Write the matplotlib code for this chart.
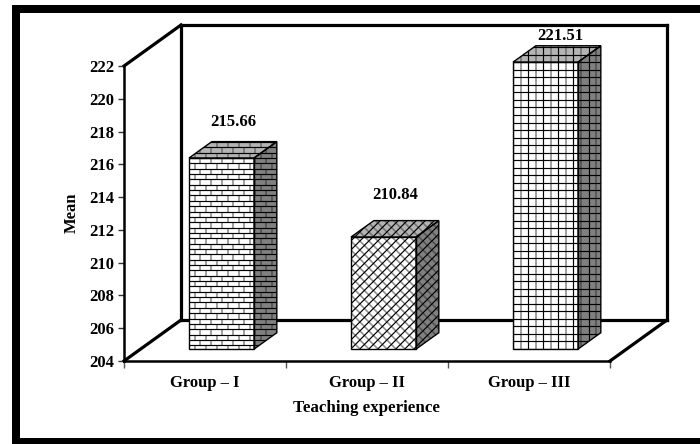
import matplotlib
matplotlib.use("Agg")
import matplotlib.pyplot as plt
import numpy as np
from matplotlib.patches import Polygon, Rectangle
from matplotlib.collections import LineCollection

categories = ["Group \u2013 I", "Group \u2013 II", "Group \u2013 III"]
means = [215.66, 210.84, 221.51]
value_labels = ["215.66", "210.84", "221.51"]
yticks = [204, 206, 208, 210, 212, 214, 216, 218, 220, 222]
patterns = ["brick", "cross", "grid"]
xlabel = "Teaching experience"
ylabel = "Mean"

plt.rcParams["font.family"] = ["Liberation Serif", "DejaVu Serif"]
plt.rcParams["font.weight"] = "bold"

W, H = 700, 444
fig = plt.figure(figsize=(W / 100, H / 100), dpi=100, facecolor="white")

# outer black frame
for x0, y0, x1, y1 in [(12, 5, 700, 13), (12, 5, 20, 444), (12, 438, 700, 444)]:
    fig.add_artist(Rectangle((x0 / W, 1 - y1 / H), (x1 - x0) / W, (y1 - y0) / H,
                             transform=fig.transFigure, fc="black", ec="none"))

L, R, T, B = 124, 610, 66, 361
ax = fig.add_axes([L / W, 1 - B / H, (R - L) / W, (B - T) / H])
ax.set_xlim(0, 3)
ax.set_ylim(204, 222)
ax.patch.set_alpha(0)

sx = (R - L) / 3            # pixels per x unit
sy = (B - T) / 18           # pixels per y unit
DX, DY = 57 / sx, 41 / sy   # full depth of the box, in data units
BAR_W = 65 / sx
F0, F1 = 0.29, 0.69         # bar depth range as a fraction of full depth


def d(x, y, f):
    """Project a point at depth fraction f."""
    return (x + f * DX, y + f * DY)


# walls and floor
back_l, back_r = d(0, 204, 1), d(3, 204, 1)
top_l, top_r = d(0, 222, 1), d(3, 222, 1)
wall = [[(0, 222), top_l], [top_l, top_r], [top_r, back_r], [back_r, back_l],
        [back_l, top_l], [(0, 204), back_l], [(3, 204), back_r]]
ax.add_collection(LineCollection(wall, colors="black", linewidths=2.3,
                                 clip_on=False, capstyle="projecting", zorder=1))


def pattern_lines(kind, w, h, w_tot, h_tot):
    """Screen-aligned hatch, anchored at the front face's top left corner."""
    black, grey = [], []
    if kind == "brick":
        step, bw = 5.35, 11.0
        for i in range(-8, int(h / step) + 2):
            yy = h - i * step
            black.append([(0, yy), (w_tot, yy)])
            off = 0 if i % 2 == 0 else bw / 2
            for xx in np.arange(off, w_tot + bw, bw):
                grey.append([(xx, yy), (xx, yy - step)])
    elif kind == "grid":
        step = 7.55
        for i in range(-6, int(h / step) + 2):
            yy = h - i * step
            black.append([(0, yy), (w_tot, yy)])
        for i in range(int(w_tot / step) + 2):
            xx = i * step
            (black if i % 2 == 0 else grey).append([(xx, 0), (xx, h_tot)])
    else:
        step = 9.0
        size = w_tot + h_tot
        for c in np.arange(-size, size, step):
            black.append([(c, 0), (c + size, size)])
            grey.append([(c, size), (c + size, 0)])
    return black, grey


def face(verts, fc, greyc, black, grey, to_data, lw=0.85):
    poly = Polygon(verts, closed=True, fc=fc, ec="none", clip_on=False, zorder=3)
    ax.add_patch(poly)
    for segs, col, width in ((grey, greyc, lw + 0.3), (black, "black", lw)):
        lc = LineCollection(to_data(segs), colors=col, linewidths=width, zorder=4)
        ax.add_collection(lc)
        lc.set_clip_path(poly)
        lc.set_clip_box(fig.bbox)
    ax.add_patch(Polygon(verts, closed=True, fc="none", ec="black", lw=1.0,
                         clip_on=False, zorder=5))


# pixel offsets of the value labels from the bar's back top edge
label_shift = [(0, 20), (0, 26), (3, 10)]

for i, (val, kind, lab) in enumerate(zip(means, patterns, value_labels)):
    x0 = i + 0.5 - BAR_W / 2
    fx, fy = d(x0, 204, F0)
    ox, oy = (F1 - F0) * DX, (F1 - F0) * DY
    h = val - 204
    w_px, h_px = BAR_W * sx, h * sy
    ox_px, oy_px = ox * sx, oy * sy
    black, grey = pattern_lines(kind, w_px, h_px, w_px + ox_px, h_px + oy_px)
    to_data = lambda segs: [[(fx + u / sx, fy + v / sy) for u, v in s] for s in segs]

    face([(fx, fy), (fx + BAR_W, fy), (fx + BAR_W, fy + h), (fx, fy + h)],
         "white", "#8a8a8a", black, grey, to_data)
    face([(fx + BAR_W, fy), (fx + BAR_W + ox, fy + oy),
          (fx + BAR_W + ox, fy + h + oy), (fx + BAR_W, fy + h)],
         "#808080", "#505050", black, grey, to_data)
    face([(fx, fy + h), (fx + BAR_W, fy + h),
          (fx + BAR_W + ox, fy + h + oy), (fx + ox, fy + h + oy)],
         "#b4b4b4", "#707070", black, grey, to_data)

    sh = label_shift[i]
    ax.annotate(lab, (fx + BAR_W / 2 + ox / 2, fy + h + oy), xytext=sh,
                textcoords="offset pixels", ha="center", va="center",
                fontsize=12, fontweight="bold", annotation_clip=False, zorder=6)

# axes
for s in ("top", "right"):
    ax.spines[s].set_visible(False)
ax.spines["left"].set_linewidth(1.8)
ax.spines["bottom"].set_linewidth(1.8)
ax.spines["left"].set_zorder(2)
ax.set_yticks(yticks)
ax.set_yticklabels([str(t) for t in yticks], fontsize=12, fontweight="bold")
ax.set_xticks([0, 1, 2, 3])
ax.set_xticklabels([])
ax.tick_params(axis="y", length=4, width=1, color="#333333", pad=3)
ax.tick_params(axis="x", length=5, width=1, color="#555555")
for i, c in enumerate(categories):
    ax.annotate(c, (i + 0.5, 204), xytext=(0, -22), textcoords="offset pixels",
                ha="center", va="center", fontsize=12, fontweight="bold",
                annotation_clip=False)
fig.text(367 / W, 1 - 408 / H, xlabel, ha="center", va="center",
         fontsize=12.2, fontweight="bold")
fig.text(72 / W, 1 - 213 / H, ylabel, rotation=90, ha="center", va="center",
         fontsize=12, fontweight="bold")

fig.savefig("out.png", dpi=100)
